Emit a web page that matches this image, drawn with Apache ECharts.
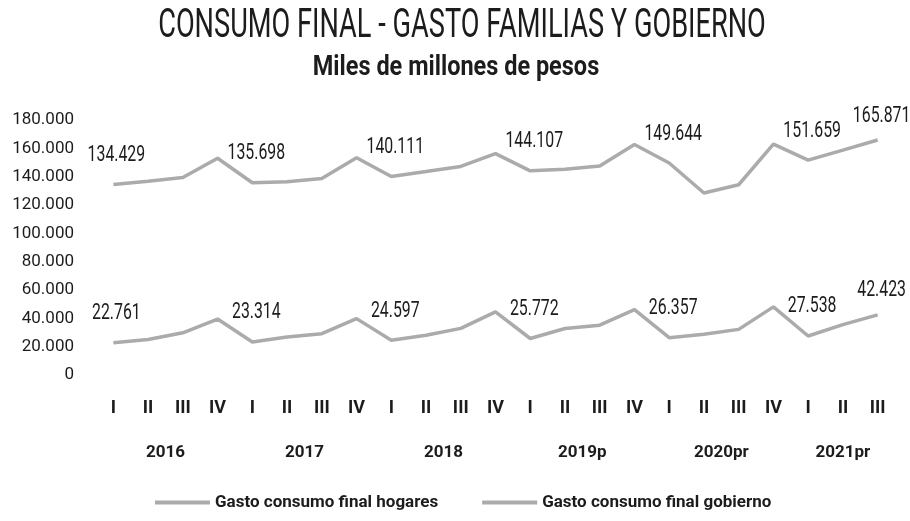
<!DOCTYPE html>
<html>
<head>
<meta charset="utf-8">
<style>
  html, body { margin: 0; padding: 0; background: #ffffff; }
  #chart { width: 910px; height: 521px; }
</style>
<script src="https://cdn.jsdelivr.net/npm/echarts@6/dist/echarts.min.js"></script>
</head>
<body>
<div id="chart"></div>
<script>
// Quarterly final consumption, miles de millones de pesos
const quarterLabels = ['I','II','III','IV','I','II','III','IV','I','II','III','IV',
                       'I','II','III','IV','I','II','III','IV','I','II','III'];
const yearLabels = ['2016','2016','2016','2016','2017','2017','2017','2017',
                    '2018','2018','2018','2018','2019p','2019p','2019p','2019p',
                    '2020pr','2020pr','2020pr','2020pr','2021pr','2021pr','2021pr'];

const hogares = [134429, 136700, 139400, 153000, 135698, 136400, 138700, 153400,
                 140111, 143600, 147200, 156300, 144107, 145300, 147600, 162700,
                 149644, 128500, 134300, 163000, 151659, 158700, 165871];
const gobierno = [22761, 25100, 29800, 39500, 23314, 26800, 29200, 39800,
                  24597, 28100, 32900, 44600, 25772, 32800, 35200, 46100,
                  26357, 28700, 32200, 48100, 27538, 35600, 42423];

const yTicks = { min: 0, max: 180000, step: 20000 };

const titleText = 'CONSUMO FINAL - GASTO FAMILIAS Y GOBIERNO';
const subtitleText = 'Miles de millones de pesos';
const seriesNames = ['Gasto consumo final hogares', 'Gasto consumo final gobierno'];

const FONT = 'Roboto, "Liberation Sans", sans-serif';
const INK = '#1c1c1c';
const LINE = '#ababab';

// thousands separated with dots: 134429 -> 134.429
function fmt(v) {
  if (v === 0) return '0';
  return String(Math.round(v)).replace(/\B(?=(\d{3})+(?!\d))/g, '.');
}

// value labels go on every first quarter and on the latest quarter
const labelled = [];
quarterLabels.forEach((q, i) => { if (q === 'I') labelled.push(i); });
labelled.push(quarterLabels.length - 1);

const labelPoints = [];
labelled.forEach(i => {
  labelPoints.push([i, hogares[i]]);
  labelPoints.push([i, gobierno[i]]);
});

// centre of each year's span of quarters, on the category scale
const yearNames = [];
const yearSpans = [];
yearLabels.forEach((y, i) => {
  let k = yearNames.indexOf(y);
  if (k < 0) { yearNames.push(y); yearSpans.push([]); k = yearNames.length - 1; }
  yearSpans[k].push(i);
});
const yearPos = yearSpans.map(arr => (arr[0] + arr[arr.length - 1]) / 2);

function lineSeries(name, values) {
  return {
    name: name,
    type: 'line',
    data: values,
    symbol: 'none',
    lineStyle: { color: LINE, width: 3.5 },
    itemStyle: { color: LINE },
    z: 3
  };
}

// condensed value labels placed above the labelled points
function renderValueLabel(params, api) {
  const idx = api.value(0);
  const val = api.value(1);
  const pt = api.coord([idx, val]);
  const last = idx === quarterLabels.length - 1;
  return {
    type: 'text',
    x: pt[0] + (idx === 0 ? 3 : 4),
    y: pt[1] - (last ? 24 : 29),
    scaleX: 0.72,
    style: {
      text: fmt(val),
      align: 'center',
      verticalAlign: 'middle',
      fontFamily: FONT,
      fontSize: 22,
      fill: INK
    }
  };
}

const chart = echarts.init(document.getElementById('chart'), null, { renderer: 'canvas' });

chart.setOption({
  animation: false,
  backgroundColor: '#ffffff',
  graphic: [
    {
      type: 'text', x: 462, y: 27, scaleX: 0.68,
      style: {
        text: titleText, align: 'center', verticalAlign: 'middle',
        fontFamily: FONT, fontSize: 40, fontWeight: 'normal', fill: INK
      }
    },
    {
      type: 'text', x: 456, y: 68, scaleX: 0.87,
      style: {
        text: subtitleText, align: 'center', verticalAlign: 'middle',
        fontFamily: FONT, fontSize: 27, fontWeight: 'bold', fill: INK
      }
    }
  ],
  legend: {
    data: seriesNames,
    bottom: 5,
    left: 150,
    itemWidth: 55,
    itemHeight: 4,
    itemGap: 44,
    icon: 'rect',
    textStyle: { fontFamily: FONT, fontSize: 17, fontWeight: 'bold', color: INK }
  },
  grid: { left: 96, right: 15, top: 120, bottom: 146, containLabel: false },
  xAxis: [
    {
      type: 'category',
      data: quarterLabels,
      boundaryGap: true,
      axisLine: { show: false },
      axisTick: { show: false },
      axisLabel: {
        interval: 0, margin: 24,
        fontFamily: FONT, fontSize: 18, fontWeight: 'bold', color: INK
      }
    },
    {
      type: 'value',
      position: 'bottom',
      min: -0.5,
      max: quarterLabels.length - 0.5,
      offset: 60,
      axisLine: { show: false },
      axisTick: { show: false },
      splitLine: { show: false },
      axisLabel: {
        margin: 9,
        customValues: yearPos,
        fontFamily: FONT, fontSize: 17, fontWeight: 'bold', color: INK,
        formatter: v => {
          const k = yearPos.findIndex(p => Math.abs(p - v) < 1e-6);
          return k >= 0 ? yearNames[k] : '';
        }
      }
    }
  ],
  yAxis: {
    type: 'value',
    min: yTicks.min,
    max: yTicks.max,
    interval: yTicks.step,
    axisLine: { show: false },
    axisTick: { show: false },
    splitLine: { show: false },
    axisLabel: {
      margin: 22,
      fontFamily: FONT, fontSize: 17, color: INK,
      formatter: v => fmt(v)
    }
  },
  series: [
    lineSeries(seriesNames[0], hogares),
    lineSeries(seriesNames[1], gobierno),
    {
      name: 'valueLabels',
      type: 'custom',
      data: labelPoints,
      encode: { x: 0, y: 1 },
      renderItem: renderValueLabel,
      silent: true,
      z: 5
    }
  ]
});
</script>
</body>
</html>
